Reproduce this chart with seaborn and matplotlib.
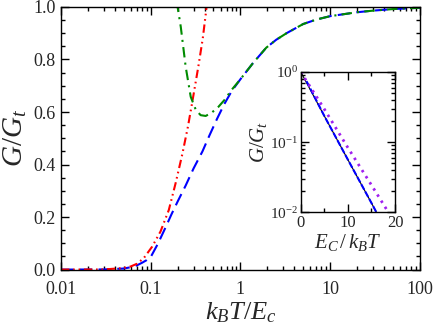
import matplotlib
matplotlib.use("Agg")
import matplotlib.pyplot as plt
import seaborn as sns
import pandas as pd
from matplotlib.ticker import FixedLocator, FixedFormatter, LogLocator, NullFormatter, MultipleLocator

# Main panel: G/Gt against kB T / Ec
blue_x = [0.01, 0.03, 0.05, 0.06, 0.07, 0.08, 0.09, 0.1, 0.12, 0.146, 0.17, 0.2, 0.245, 0.3,
          0.377, 0.45, 0.55, 0.66, 0.8, 1.0, 1.37, 1.94, 2.5, 3.26, 5.0, 7.0, 10.0, 20.0,
          30.0, 50.0, 100.0]
blue_y = [0.0, 0.0005, 0.004, 0.009, 0.016, 0.026, 0.036, 0.048, 0.098, 0.16, 0.21, 0.26,
          0.32, 0.385, 0.45, 0.51, 0.575, 0.63, 0.68, 0.725, 0.785, 0.845, 0.875, 0.90,
          0.935, 0.952, 0.965, 0.98, 0.986, 0.992, 0.997]

red_x = [0.01, 0.03, 0.05, 0.06, 0.07, 0.0834, 0.1035, 0.1285, 0.159, 0.189, 0.225, 0.26,
         0.291, 0.34, 0.38, 0.411, 0.425]
red_y = [0.0, 0.0005, 0.006, 0.012, 0.022, 0.043, 0.087, 0.145, 0.227, 0.328, 0.44, 0.545,
         0.64, 0.775, 0.88, 0.975, 1.02]

green_x = [0.195, 0.216, 0.245, 0.279, 0.318, 0.36, 0.41, 0.48, 0.569, 0.66, 0.8, 1.0, 1.37,
           1.94, 2.5, 3.26, 5.0, 7.0, 10.0, 20.0, 30.0, 50.0, 100.0]
green_y = [1.02, 0.925, 0.773, 0.658, 0.608, 0.588, 0.585, 0.598, 0.62, 0.645, 0.685, 0.725,
           0.785, 0.845, 0.875, 0.90, 0.935, 0.952, 0.965, 0.98, 0.986, 0.992, 0.997]

# Inset: G/Gt against Ec / kB T (log y)
black_x = [0, 5, 10, 15, 16.1]
black_y = [1.0, 0.235, 0.056, 0.0135, 0.0098]
inset_blue_x = [1.2, 5, 10, 15, 16.1]
inset_blue_y = [0.74, 0.235, 0.056, 0.0135, 0.0098]
violet_x = [0, 4.96, 9.72, 15.26, 18.45]
violet_y = [1.0, 0.298, 0.089, 0.0228, 0.0103]

xticks = [0.01, 0.1, 1, 10, 100]
xtick_labels = ["0.01", "0.1", "1", "10", "100"]

sns.set_theme(style="ticks")
plt.rcParams["font.family"] = ["Liberation Serif", "DejaVu Serif"]
plt.rcParams["mathtext.fontset"] = "custom"
plt.rcParams["mathtext.rm"] = "Liberation Serif"
plt.rcParams["mathtext.it"] = "Liberation Serif:italic"

fig = plt.figure(figsize=(4.36, 3.32), dpi=100)
ax = fig.add_axes([0.140, 0.188, 0.823, 0.791])

sns.lineplot(x=blue_x, y=blue_y, ax=ax, color="blue", lw=1.5, estimator=None,
             linestyle=(0, (6, 3)))
sns.lineplot(x=red_x, y=red_y, ax=ax, color="red", lw=1.5, estimator=None,
             linestyle=(0, (4, 1.8, 0.8, 1.8, 0.8, 1.8)))
sns.lineplot(x=green_x, y=green_y, ax=ax, color="#008b00", lw=1.5, estimator=None,
             linestyle=(0, (5, 2.5, 1, 2.5)))

ax.set_xscale("log")
ax.set_xlim(0.01, 100)
ax.set_ylim(0, 1)
ax.xaxis.set_major_locator(FixedLocator(xticks))
ax.xaxis.set_major_formatter(FixedFormatter(xtick_labels))
ax.xaxis.set_minor_locator(LogLocator(base=10, subs=range(2, 10), numticks=20))
ax.xaxis.set_minor_formatter(NullFormatter())
ax.yaxis.set_major_locator(MultipleLocator(0.2))
ax.yaxis.set_minor_locator(MultipleLocator(0.05))
ax.yaxis.set_major_formatter(plt.FuncFormatter(lambda v, p: f"{v:.1f}"))
ax.tick_params(which="both", direction="in", top=True, right=True, labelsize=13,
               color="black", width=1)
ax.tick_params(which="major", length=6)
ax.tick_params(which="minor", length=3)
ax.tick_params(axis="x", pad=8)
ax.tick_params(axis="y", pad=4)
for s in ax.spines.values():
    s.set_color("black")
    s.set_linewidth(1)
ax.set_xlabel(r"$k_BT/E_c$", fontsize=19, labelpad=2)
ax.set_ylabel(r"$G/G_t$", fontsize=21, labelpad=3)

# inset
axi = fig.add_axes([0.690, 0.361, 0.216, 0.422])
sns.lineplot(x=black_x, y=black_y, ax=axi, color="black", lw=0.8, estimator=None)
sns.lineplot(x=inset_blue_x, y=inset_blue_y, ax=axi, color="blue", lw=1.5, estimator=None,
             linestyle=(0, (3, 1)))
sns.lineplot(x=violet_x, y=violet_y, ax=axi, color="#a020f0", lw=2.0, estimator=None,
             linestyle=(0, (0.9, 1.7)))
axi.set_yscale("log")
axi.set_xlim(0, 20)
axi.set_ylim(0.01, 1)
axi.xaxis.set_major_locator(MultipleLocator(10))
axi.xaxis.set_minor_locator(MultipleLocator(5))
axi.yaxis.set_major_locator(LogLocator(base=10, numticks=5))
axi.yaxis.set_minor_locator(LogLocator(base=10, subs=range(2, 10), numticks=20))
axi.yaxis.set_minor_formatter(NullFormatter())
axi.tick_params(which="both", direction="in", top=True, right=True, labelsize=12,
                color="black", width=1, pad=2)
axi.tick_params(which="major", length=6)
axi.tick_params(which="minor", length=3)
axi.tick_params(axis="y", labelsize=11)
for s in axi.spines.values():
    s.set_color("black")
    s.set_linewidth(1)
axi.set_xlabel(r"$E_C\,/\,k_BT$", fontsize=15, labelpad=1)
axi.set_ylabel(r"$G/G_t$", fontsize=15, labelpad=1)

fig.savefig("out.png", dpi=100)
